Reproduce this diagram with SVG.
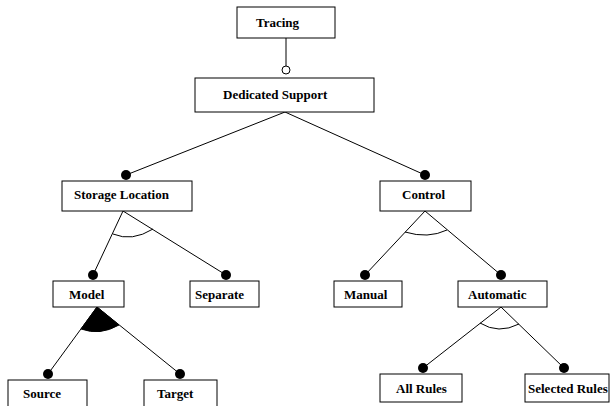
<svg xmlns="http://www.w3.org/2000/svg" width="615" height="406" viewBox="0 0 615 406">
<style>
rect{fill:#fff;stroke:#000;stroke-width:1}
text{font-family:"Liberation Serif","Times New Roman",serif;font-weight:bold;font-size:13px;fill:#000}
.c line,.c path{stroke:#000;stroke-width:1;fill:none}
.dot{fill:#000}
.open{fill:#fff;stroke:#000;stroke-width:1}
</style>
<rect x="0" y="0" width="615" height="406" style="fill:#fff;stroke:none"/>
<g class="c" id="connectors">
<line x1="286" y1="38" x2="286" y2="66"/>
<circle class="open" cx="286" cy="70" r="4"/>
<line x1="285" y1="112" x2="126" y2="175"/>
<line x1="285" y1="112" x2="425" y2="175"/>
<circle class="dot" cx="126" cy="175" r="5"/>
<circle class="dot" cx="425" cy="175" r="5"/>
<line x1="123" y1="211" x2="93" y2="275"/>
<line x1="123" y1="211" x2="226" y2="275"/>
<path d="M113,234 Q132,242 153,229"/>
<circle class="dot" cx="93" cy="275" r="5"/>
<circle class="dot" cx="226" cy="275" r="5"/>
<line x1="425" y1="211" x2="365" y2="275"/>
<line x1="425" y1="211" x2="501" y2="275"/>
<path d="M405,232 Q428,239 447,230"/>
<circle class="dot" cx="365" cy="275" r="5"/>
<circle class="dot" cx="501" cy="275" r="5"/>
<line x1="97" y1="307" x2="48" y2="374"/>
<line x1="97" y1="307" x2="180" y2="374"/>
<path d="M97,307 L81,329 Q100,336 119,325 Z" style="fill:#000"/>
<circle class="dot" cx="48" cy="374" r="5"/>
<circle class="dot" cx="180" cy="374" r="5"/>
<line x1="501" y1="307" x2="423" y2="368"/>
<line x1="501" y1="307" x2="564" y2="368"/>
<path d="M480,323 Q498.5,334.5 519,324"/>
<circle class="dot" cx="423" cy="368" r="5"/>
<circle class="dot" cx="564" cy="368" r="5"/>
</g>
<g id="tracing"><rect x="237" y="7" width="98" height="31"/><text x="256" y="27">Tracing</text></g>
<g id="dedicated-support"><rect x="195" y="78" width="179" height="34"/><text x="223" y="99">Dedicated Support</text></g>
<g id="storage-location"><rect x="62" y="181" width="130" height="30"/><text x="74" y="199">Storage Location</text></g>
<g id="control"><rect x="380" y="181" width="91" height="30"/><text x="402" y="199">Control</text></g>
<g id="model"><rect x="53" y="281" width="71" height="26"/><text x="69" y="299">Model</text></g>
<g id="separate"><rect x="190" y="281" width="69" height="26"/><text x="195" y="299">Separate</text></g>
<g id="manual"><rect x="334" y="281" width="68" height="26"/><text x="344" y="299">Manual</text></g>
<g id="automatic"><rect x="458" y="281" width="89" height="26"/><text x="468" y="299">Automatic</text></g>
<g id="source"><rect x="8" y="380" width="79" height="30"/><text x="23" y="398">Source</text></g>
<g id="target"><rect x="144" y="380" width="73" height="30"/><text x="157" y="398">Target</text></g>
<g id="all-rules"><rect x="380" y="374" width="82" height="28"/><text x="396" y="393">All Rules</text></g>
<g id="selected-rules"><rect x="525" y="374" width="84" height="28"/><text x="528" y="393">Selected Rules</text></g>
</svg>
